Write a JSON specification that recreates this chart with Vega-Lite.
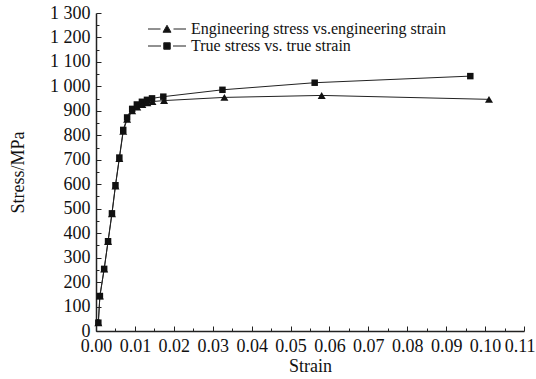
{
  "$schema": "https://vega.github.io/schema/vega-lite/v6.json",
  "width": 428,
  "height": 318,
  "autosize": {"type": "none"},
  "padding": {"left": 96, "top": 13, "right": 12, "bottom": 48},
  "background": "white",
  "config": {
    "font": "Liberation Serif",
    "view": {"stroke": null},
    "axis": {
      "grid": false,
      "domainColor": "#222",
      "tickColor": "#222",
      "labelColor": "#111",
      "titleColor": "#111",
      "labelFont": "Liberation Serif",
      "titleFont": "Liberation Serif",
      "labelFontSize": 18,
      "titleFontSize": 18,
      "titleFontWeight": "normal"
    },
    "legend": {
      "orient": "none",
      "title": null,
      "padding": 0,
      "symbolSize": 100,
      "symbolStrokeColor": "#222",
      "symbolStrokeWidth": 1,
      "symbolFillColor": "#111",
      "labelFontSize": 16,
      "labelFont": "Liberation Serif",
      "labelColor": "#111",
      "labelLimit": 400,
      "labelOffset": 16
    }
  },
  "data": {
    "values": [
      {"series": "True stress vs. true strain", "strain": 0.0006, "stress": 34},
      {"series": "True stress vs. true strain", "strain": 0.0010, "stress": 143},
      {"series": "True stress vs. true strain", "strain": 0.0021, "stress": 254},
      {"series": "True stress vs. true strain", "strain": 0.0031, "stress": 367},
      {"series": "True stress vs. true strain", "strain": 0.0041, "stress": 481},
      {"series": "True stress vs. true strain", "strain": 0.0050, "stress": 596},
      {"series": "True stress vs. true strain", "strain": 0.0060, "stress": 709},
      {"series": "True stress vs. true strain", "strain": 0.0070, "stress": 822},
      {"series": "True stress vs. true strain", "strain": 0.0080, "stress": 873},
      {"series": "True stress vs. true strain", "strain": 0.0093, "stress": 908},
      {"series": "True stress vs. true strain", "strain": 0.0105, "stress": 926},
      {"series": "True stress vs. true strain", "strain": 0.0118, "stress": 937},
      {"series": "True stress vs. true strain", "strain": 0.0131, "stress": 945},
      {"series": "True stress vs. true strain", "strain": 0.0144, "stress": 951},
      {"series": "True stress vs. true strain", "strain": 0.0173, "stress": 958},
      {"series": "True stress vs. true strain", "strain": 0.0325, "stress": 986},
      {"series": "True stress vs. true strain", "strain": 0.0562, "stress": 1015},
      {"series": "True stress vs. true strain", "strain": 0.0962, "stress": 1042},
      {"series": "Engineering stress vs.engineering strain", "strain": 0.0006, "stress": 34},
      {"series": "Engineering stress vs.engineering strain", "strain": 0.0010, "stress": 143},
      {"series": "Engineering stress vs.engineering strain", "strain": 0.0021, "stress": 253},
      {"series": "Engineering stress vs.engineering strain", "strain": 0.0031, "stress": 366},
      {"series": "Engineering stress vs.engineering strain", "strain": 0.0041, "stress": 479},
      {"series": "Engineering stress vs.engineering strain", "strain": 0.0050, "stress": 593},
      {"series": "Engineering stress vs.engineering strain", "strain": 0.0060, "stress": 705},
      {"series": "Engineering stress vs.engineering strain", "strain": 0.0070, "stress": 816},
      {"series": "Engineering stress vs.engineering strain", "strain": 0.0080, "stress": 866},
      {"series": "Engineering stress vs.engineering strain", "strain": 0.0093, "stress": 900},
      {"series": "Engineering stress vs.engineering strain", "strain": 0.0106, "stress": 916},
      {"series": "Engineering stress vs.engineering strain", "strain": 0.0119, "stress": 926},
      {"series": "Engineering stress vs.engineering strain", "strain": 0.0132, "stress": 933},
      {"series": "Engineering stress vs.engineering strain", "strain": 0.0145, "stress": 938},
      {"series": "Engineering stress vs.engineering strain", "strain": 0.0175, "stress": 942},
      {"series": "Engineering stress vs.engineering strain", "strain": 0.0330, "stress": 955},
      {"series": "Engineering stress vs.engineering strain", "strain": 0.0580, "stress": 963},
      {"series": "Engineering stress vs.engineering strain", "strain": 0.1010, "stress": 947}
    ]
  },
  "layer": [
    {
      "mark": {"type": "line", "color": "#222", "strokeWidth": 1},
      "encoding": {
        "x": {
          "field": "strain", "type": "quantitative",
          "scale": {"domain": [0, 0.11], "nice": false, "zero": false},
          "axis": {
            "orient": "bottom",
            "values": [0, 0.01, 0.02, 0.03, 0.04, 0.05, 0.06, 0.07, 0.08, 0.09, 0.1, 0.11],
            "format": ".2f",
            "tickSize": -5,
            "labelPadding": 11,
            "labelFlush": false,
            "labelOverlap": false,
            "labelAlign": {"condition": {"test": "datum.value > 0.105", "value": "right"}, "value": "center"},
            "labelOffset": {"condition": {"test": "datum.value > 0.105", "value": 11}, "value": 0},
            "domainWidth": 1.5,
            "title": "Strain",
            "titlePadding": 2
          }
        },
        "y": {
          "field": "stress", "type": "quantitative",
          "scale": {"domain": [0, 1300], "nice": false},
          "axis": {
            "orient": "left",
            "values": [0, 100, 200, 300, 400, 500, 600, 700, 800, 900, 1000, 1100, 1200, 1300],
            "labelExpr": "replace(format(datum.value, ','), ',', ' ')",
            "tickSize": -5,
            "labelPadding": 11,
            "labelFlush": false,
            "labelOverlap": false,
            "domainWidth": 1.5,
            "title": "Stress/MPa",
            "titlePadding": 22
          }
        },
        "detail": {"field": "series", "type": "nominal"}
      }
    },
    {
      "transform": [{"filter": "datum.series === 'True stress vs. true strain'"}],
      "mark": {"type": "point", "filled": true, "shape": "square", "opacity": 1, "size": 42},
      "encoding": {
        "x": {
          "field": "strain", "type": "quantitative",
          "axis": {
            "orient": "bottom",
            "values": [0.005, 0.015, 0.025, 0.035, 0.045, 0.055, 0.065, 0.075, 0.085, 0.095, 0.105],
            "labels": false,
            "domain": false,
            "tickSize": -3,
            "title": null
          }
        },
        "y": {
          "field": "stress", "type": "quantitative",
          "axis": {
            "orient": "left",
            "values": [50, 150, 250, 350, 450, 550, 650, 750, 850, 950, 1050, 1150, 1250],
            "labels": false,
            "domain": false,
            "tickSize": -3,
            "title": null
          }
        },
        "color": {
          "field": "series", "type": "nominal",
          "scale": {"range": ["#111"]},
          "legend": {
            "legendX": 63,
            "legendY": 25,
            "symbolType": "M-3.8,0H-1.2M1.2,0H3.8M-0.65,-0.65H0.65V0.65H-0.65Z"
          }
        }
      }
    },
    {
      "transform": [{"filter": "datum.series === 'Engineering stress vs.engineering strain'"}],
      "mark": {"type": "point", "filled": true, "shape": "triangle-up", "opacity": 1, "size": 64},
      "encoding": {
        "x": {"field": "strain", "type": "quantitative", "axis": null},
        "y": {"field": "stress", "type": "quantitative", "axis": null},
        "color": {
          "field": "series", "type": "nominal",
          "scale": {"range": ["#111"]},
          "legend": {
            "legendX": 63,
            "legendY": 8,
            "symbolType": "M-3.8,0H-1.3M1.3,0H3.8M-0.8,0.65L0,-0.75L0.8,0.65Z"
          }
        }
      }
    }
  ],
  "resolve": {
    "axis": {"x": "independent", "y": "independent"},
    "scale": {"color": "independent"},
    "legend": {"color": "independent"}
  }
}
